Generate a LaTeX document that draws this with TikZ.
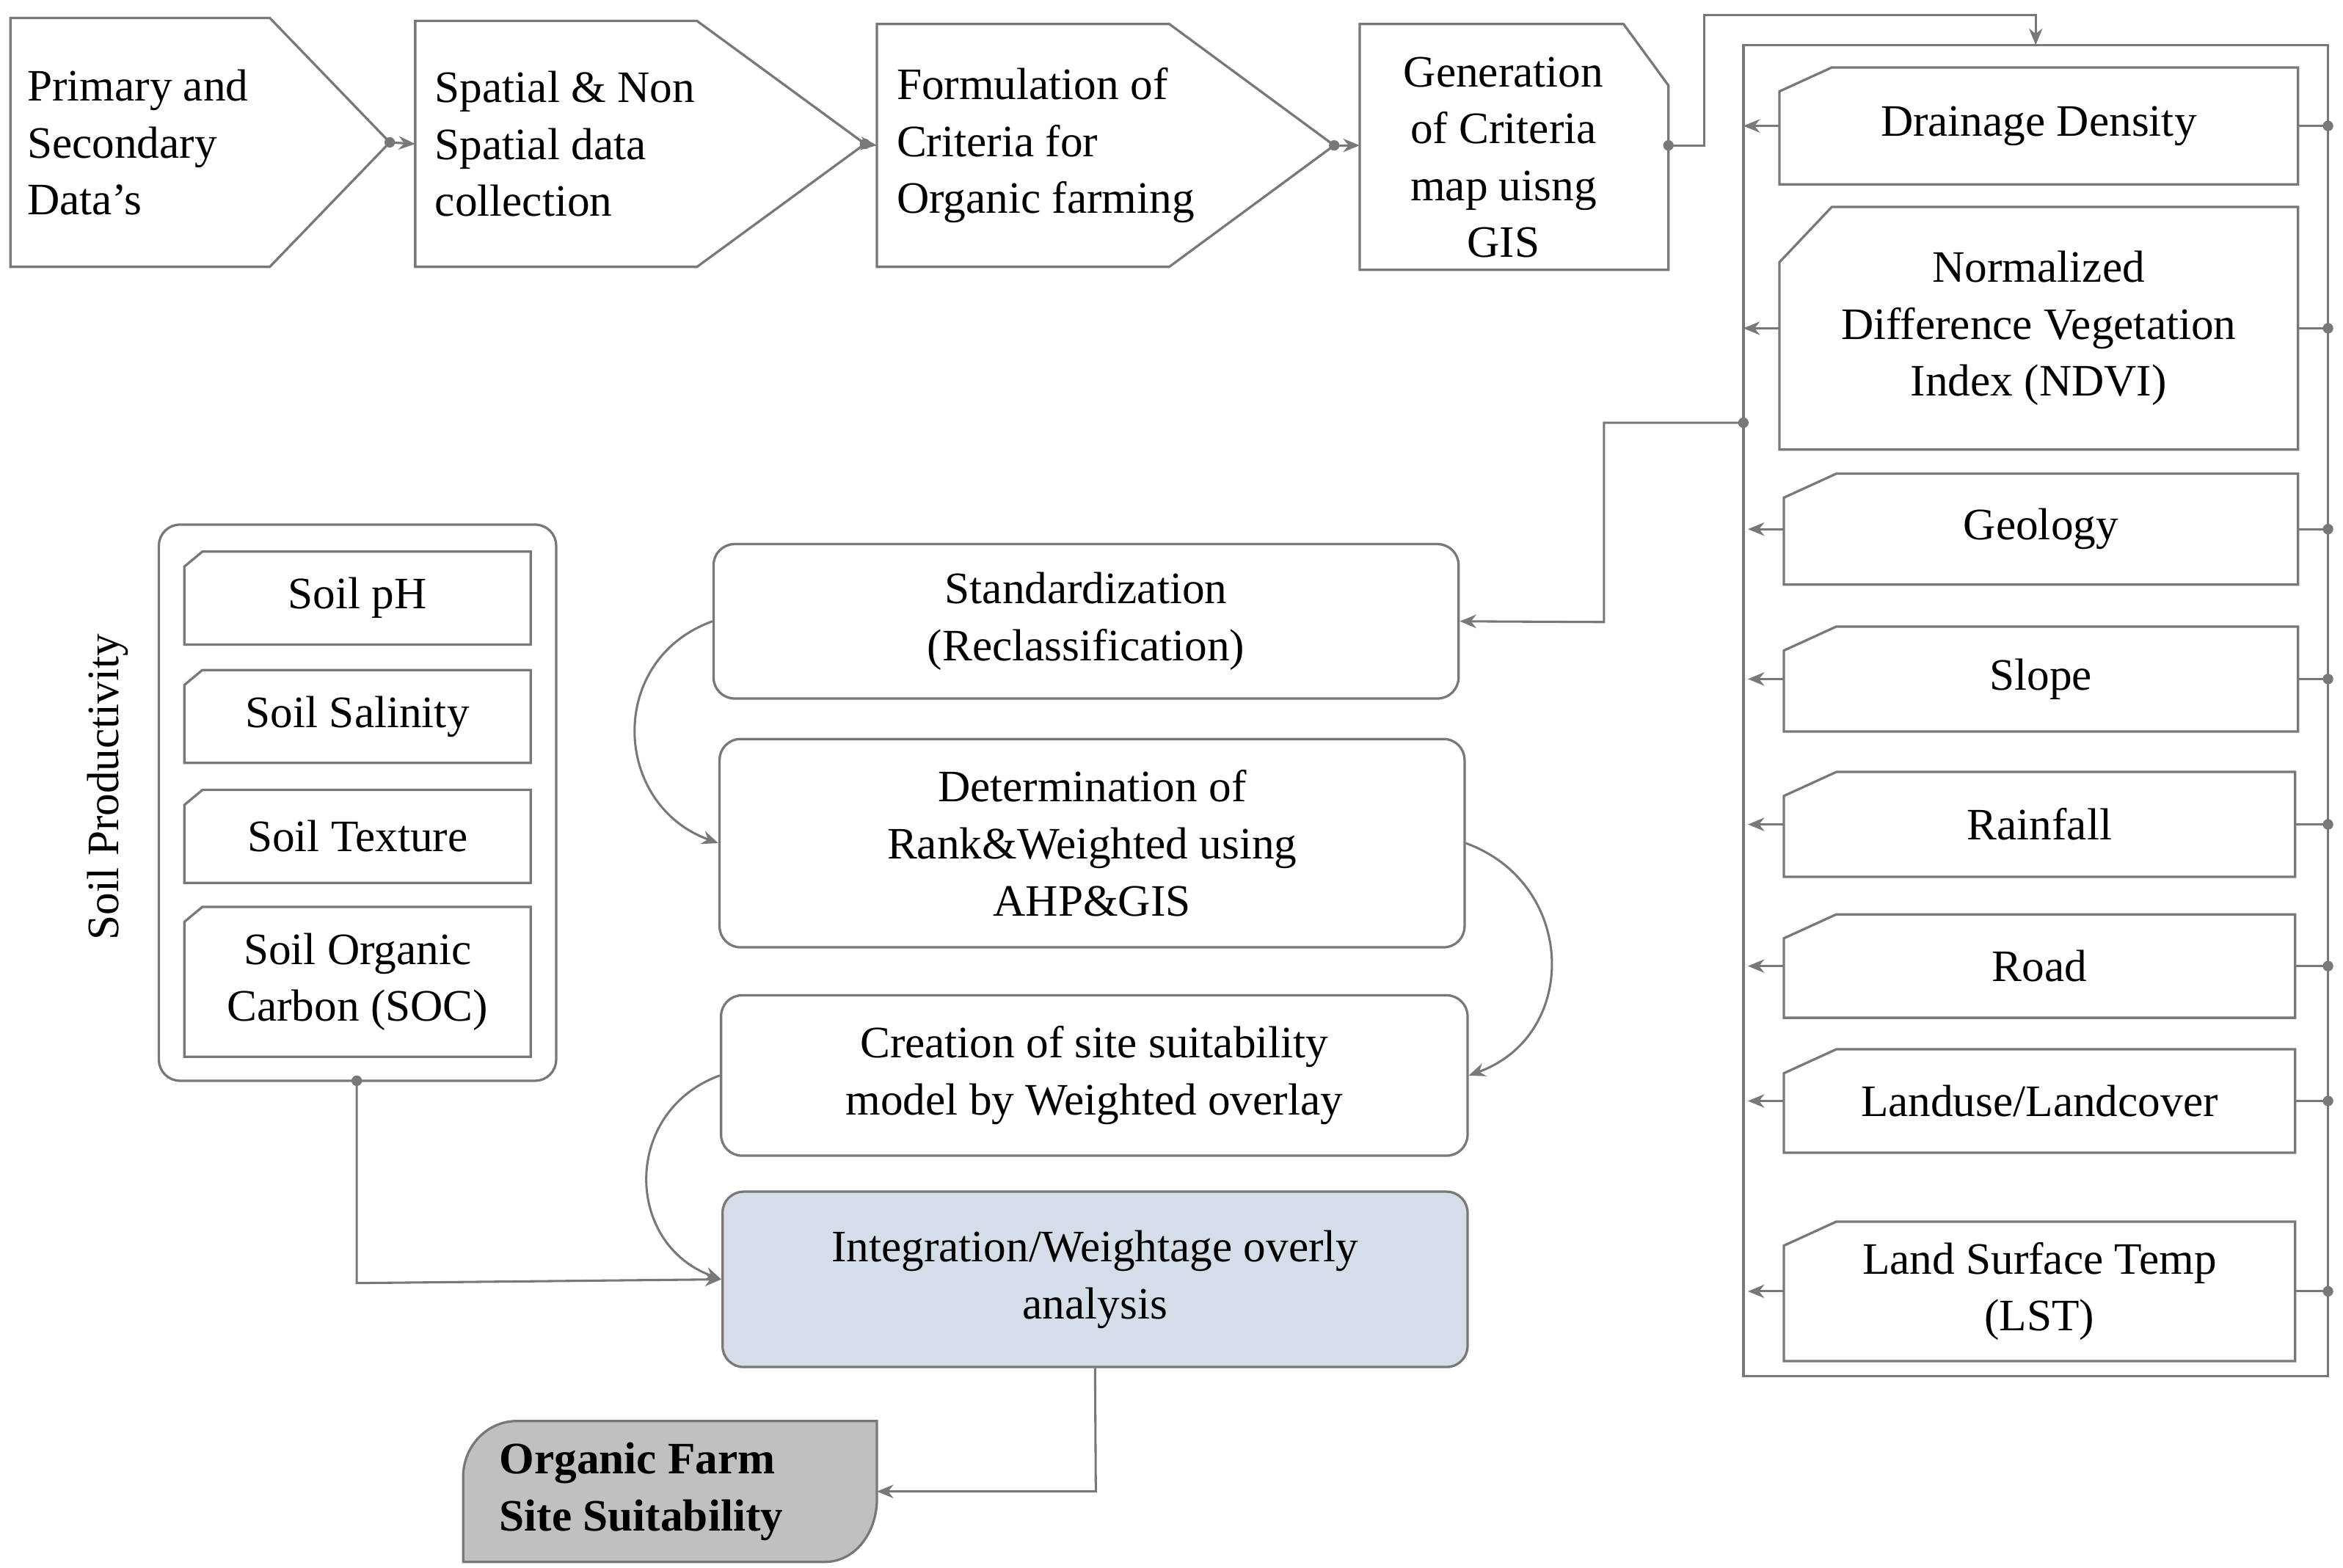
\documentclass[tikz,border=0pt]{standalone}
\usepackage{fontspec}
\setmainfont{Liberation Serif}
\usetikzlibrary{arrows.meta}
\definecolor{edge}{RGB}{120,120,120}
\definecolor{intfill}{RGB}{213,222,232}
\definecolor{outfill}{RGB}{192,192,192}
% clipped-corner box: name, left, top, right, bottom, cut-x, cut-y, text
\newcommand{\cutbox}[8]{%
  \draw[box] (#2+#6,#3) -- (#4,#3) -- (#4,#5) -- (#2,#5) -- (#2,#3+#7) -- cycle;
  \node[txt] (#1) at ({(#2+#4)/2},{(#3+#5)/2}) {#8};
  \coordinate (#1w) at (#2,{(#3+#5)/2});
  \coordinate (#1e) at (#4,{(#3+#5)/2});}
\begin{document}
\begin{tikzpicture}[x=1pt,y=-1pt,
  box/.style={draw=edge,line width=1.6pt},
  txt/.style={font=\fontsize{30}{38}\selectfont,align=center,inner sep=0pt},
  rbox/.style={draw=edge,line width=1.6pt,rounded corners=14pt,align=center,
    font=\fontsize{30}{38}\selectfont,inner sep=0pt},
  con/.style={draw=edge,line width=1.5pt},
  arr/.style={con,-{Stealth[length=11pt,width=9pt]}},
  dot/.style={circle,fill=edge,inner sep=0pt,minimum size=7pt}]
\useasboundingbox (0,0) rectangle (1563,1046);

% top chevrons
\draw[box] (7,12) -- (180,12) -- (260,95) -- (180,178) -- (7,178) -- cycle;
\node[txt,align=left,anchor=west] (prim) at (18,95) {Primary and\\Secondary\\Data's};
\coordinate (primE) at (260,95);
\draw[box] (277,14) -- (465,14) -- (577,96) -- (465,178) -- (277,178) -- cycle;
\node[txt,align=left,anchor=west] (spat) at (290,96) {Spatial \& Non\\Spatial data\\collection};
\coordinate (spatW) at (277,96); \coordinate (spatE) at (577,96);
\draw[box] (585,16) -- (780,16) -- (890,97) -- (780,178) -- (585,178) -- cycle;
\node[txt,align=left,anchor=west] (form) at (598,97) {Formulation of\\Criteria for\\Organic farming};
\coordinate (formW) at (585,97); \coordinate (formE) at (890,97);
\draw[box] (907,16) -- (1083,16) -- (1113,57) -- (1113,180) -- (907,180) -- cycle;
\node[txt] (gen) at (1003,105) {Generation\\of Criteria\\map uisng\\GIS};
\coordinate (genW) at (907,97); \coordinate (genE) at (1113,97);

\draw[arr] (primE) -- (spatW);
\draw[arr] (spatE) -- (formW);
\draw[arr] (formE) -- (genW);
\node[dot] at (primE) {}; \node[dot] at (spatE) {}; \node[dot] at (formE) {};

% criteria container
\draw[box] (1163,30) rectangle (1553,918);
\coordinate (cont) at (1358,30);
\draw[arr] (genE) -- (1137,97) -- (1137,10) -- (1358,10) -- (cont);
\node[dot] at (genE) {};

\cutbox{dd}{1187}{45}{1533}{123}{35}{16}{Drainage Density}
\cutbox{nd}{1187}{138}{1533}{300}{35}{37}{Normalized\\Difference Vegetation\\Index (NDVI)}
\cutbox{ge}{1190}{316}{1533}{390}{35}{16}{Geology}
\cutbox{sl}{1190}{418}{1533}{488}{35}{16}{Slope}
\cutbox{ra}{1190}{515}{1531}{585}{35}{16}{Rainfall}
\cutbox{ro}{1190}{610}{1531}{679}{35}{16}{Road}
\cutbox{lu}{1190}{700}{1531}{769}{35}{16}{Landuse/Landcover}
\cutbox{ls}{1190}{815}{1531}{908}{35}{16}{Land Surface Temp\\(LST)}
\foreach \n in {dd,nd,ge,sl,ra,ro,lu,ls}{
  \draw[arr] (\n w) -- ++(-24,0);
  \draw[con] (\n e) -- (1553,0 |- \n e);
  \node[dot] at (1553,0 |- \n e) {};
}

% soil panel
\draw[box,rounded corners=14pt] (106,350) rectangle (371,721);
\node[txt,rotate=90] (sp) at (72,525) {Soil Productivity};
\cutbox{ph}{123}{368}{354}{430}{12}{10}{Soil pH}
\cutbox{sa}{123}{447}{354}{509}{12}{10}{Soil Salinity}
\cutbox{te}{123}{527}{354}{589}{12}{10}{Soil Texture}
\cutbox{so}{123}{605}{354}{705}{12}{10}{Soil Organic\\Carbon (SOC)}
\coordinate (soilS) at (238,721);

% process boxes
\node[rbox,minimum width=497pt,minimum height=103pt] (std) at (724.5,414.5) {Standardization\\(Reclassification)};
\node[rbox,minimum width=497pt,minimum height=139pt] (det) at (728.5,562.5) {Determination of\\Rank\&Weighted using\\AHP\&GIS};
\node[rbox,minimum width=498pt,minimum height=107pt] (cre) at (730,717.5) {Creation of site suitability\\model by Weighted overlay};
\node[rbox,fill=intfill,minimum width=497pt,minimum height=117pt] (int) at (730.5,853.5) {Integration/Weightage overly\\analysis};

% output
\draw[box,fill=outfill] (309,1042) -- (309,985) to[out=90,in=180] (345,948) -- (585,948)
  -- (585,1000) to[out=-90,in=0] (550,1042) -- cycle;
\node[txt,font=\fontsize{30}{38}\selectfont\bfseries,align=left,anchor=west] (out) at (333,995) {Organic Farm\\Site Suitability};
\coordinate (outE) at (585,995);

% connectors
\draw[arr] (1163,282) -- (1070,282) -- (1070,415) -- (std.east);
\node[dot] at (1163,282) {};
\draw[arr] (std.west) to[out=200,in=160,looseness=1.3] (det.west);
\draw[arr] (det.east) to[out=-20,in=20,looseness=1.3] (cre.east);
\draw[arr] (cre.west) to[out=200,in=160,looseness=1.3] (int.west);
\draw[arr] (soilS) -- (238,856) -- (int.west);
\node[dot] at (soilS) {};
\draw[arr] (int.south) -- (731,995) -- (outE);
\end{tikzpicture}
\end{document}
